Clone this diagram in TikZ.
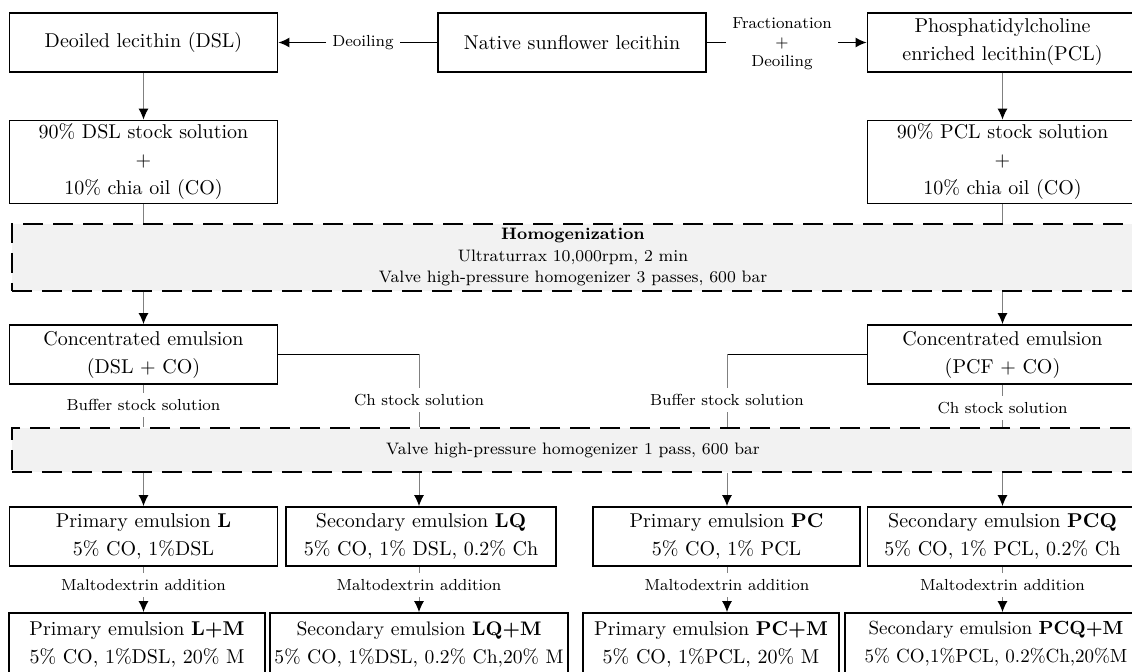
\documentclass[tikz,border=0pt]{standalone}
\usepackage{tikz}
\usetikzlibrary{arrows.meta,calc}

\begin{document}
\begin{tikzpicture}[x=0.5pt,y=-0.5pt,
    procbox/.style={draw, line width=0.9pt, fill=white, align=center, minimum height=29.5pt, inner sep=0.5pt, font=\fontsize{10}{14}\selectfont},
    stageband/.style={draw, fill=gray!10, line width=1pt, dash pattern=on 10pt off 5pt, align=center, inner sep=1pt, font=\fontsize{8.3}{10.75}\selectfont},
    lbl/.style={align=center, inner sep=3pt, font=\fontsize{8}{9.5}\selectfont},
    link/.style={draw=gray, line width=0.5pt},
    linkarrow/.style={-{Latex[length=5.5pt,width=5pt,color=black]}}]

    \useasboundingbox (0,0) rectangle (1132,672);

    % top row
    \node [procbox, minimum width=134pt] (dsl) at (143.5,42.5) {Deoiled lecithin (DSL)};
    \node [procbox, minimum width=134pt] (native) at (572,42.5) {Native sunflower lecithin};
    \node [procbox, minimum width=135pt] (pcl) at (1002.5,42.5) {Phosphatidylcholine\\enriched lecithin(PCL)};
    \node [lbl, fill=white] (deoil) at (363,42.5) {Deoiling};
    \node [lbl, fill=white] (fract) at (782,44) {Fractionation\\+\\Deoiling};

    \draw [line width=0.7pt] (native) -- (native.east -| fract.west);
    \draw [line width=0.7pt, linkarrow] (native.east -| fract.east) -- (pcl);
    \draw [line width=0.7pt] (native) -- (deoil);
    \draw [line width=0.7pt, linkarrow] (deoil) -- (dsl);

    % stock solutions
    \node [procbox, minimum width=134pt, minimum height=41.5pt] (dslstock) at (143.5,162) {90\% DSL stock solution\\+\\10\% chia oil (CO)};
    \node [procbox, minimum width=135pt, minimum height=41.5pt] (pclstock) at (1002.5,162) {90\% PCL stock solution\\+\\10\% chia oil (CO)};
    \draw [link, linkarrow] (dsl) -- (dslstock);
    \draw [link, linkarrow] (pcl) -- (pclstock);

    % homogenization
    \node [stageband, minimum width=561pt, minimum height=33.5pt] (homog) at (573,257.5) {\textbf{Homogenization}\\Ultraturrax 10,000rpm, 2 min\\Valve high-pressure homogenizer 3 passes, 600 bar};
    \draw [link] (dslstock) -- (dslstock |- homog.north);
    \draw [link] (pclstock) -- (pclstock |- homog.north);

    % concentrated emulsions
    \node [procbox, minimum width=134pt] (concl) at (143.5,354.5) {Concentrated emulsion\\(DSL + CO)};
    \node [procbox, minimum width=135pt] (concr) at (1002.5,354.5) {Concentrated emulsion\\(PCF + CO)};
    \draw [link, linkarrow] (concl |- homog.south) -- (concl);
    \draw [link, linkarrow] (concr |- homog.south) -- (concr);

    \node [lbl] (bufl) at (143.5,405) {Buffer stock solution};
    \node [lbl] (chl) at (419,400) {Ch stock solution};
    \node [lbl] (bufr) at (727,400) {Buffer stock solution};
    \node [lbl] (chr) at (1002.5,408) {Ch stock solution};

    \node [stageband, minimum width=561pt, minimum height=22pt] (valve) at (573,450) {Valve high-pressure homogenizer 1 pass, 600 bar};

    \draw [line width=0.7pt] (concl.east) -- (concl.east -| chl);
    \draw [link] (concl.east -| chl) -- (chl);
    \draw [line width=0.7pt] (concr.west) -- (concr.west -| bufr);
    \draw [link] (concr.west -| bufr) -- (bufr);
    \draw [link] (concl) -- (bufl);
    \draw [link] (concr) -- (chr);
    \draw [link] (bufl) -- (bufl |- valve.north);
    \draw [link] (chl) -- (chl |- valve.north);
    \draw [link] (bufr) -- (bufr |- valve.north);
    \draw [link] (chr) -- (chr |- valve.north);

    % emulsions
    \node [procbox, minimum width=134pt] (pl) at (143.5,536.5) {Primary emulsion \textbf{L}\\5\% CO, 1\%DSL};
    \node [procbox, minimum width=135pt] (slq) at (421,536.5) {Secondary emulsion \textbf{LQ}\\5\% CO, 1\% DSL, 0.2\% Ch};
    \node [procbox, minimum width=133.5pt] (ppc) at (726.5,536.5) {Primary emulsion \textbf{PC}\\5\% CO, 1\% PCL};
    \node [procbox, minimum width=135pt] (spcq) at (1002.5,536.5) {Secondary emulsion \textbf{PCQ}\\5\% CO, 1\% PCL, 0.2\% Ch};
    \draw [link, linkarrow] (pl |- valve.south) -- (pl);
    \draw [link, linkarrow] (chl |- valve.south) -- (chl |- slq.north);
    \draw [link, linkarrow] (bufr |- valve.south) -- (bufr |- ppc.north);
    \draw [link, linkarrow] (spcq |- valve.south) -- (spcq);

    % maltodextrin
    \node [lbl] (malt1) at (143.5,585) {Maltodextrin addition};
    \node [lbl] (malt2) at (419,585) {Maltodextrin addition};
    \node [lbl] (malt3) at (727,585) {Maltodextrin addition};
    \node [lbl] (malt4) at (1002.5,585) {Maltodextrin addition};

    \node [procbox, minimum width=128pt, minimum height=31pt] (plm) at (137,644) {Primary emulsion \textbf{L+M}\\5\% CO, 1\%DSL, 20\% M};
    \node [procbox, minimum width=149pt, minimum height=31pt, font=\fontsize{9.8}{14}\selectfont] (slqm) at (419,644) {Secondary emulsion \textbf{LQ+M}\\5\% CO, 1\%DSL, 0.2\% Ch,20\% M};
    \node [procbox, minimum width=128pt, minimum height=31pt] (ppcm) at (711,644) {Primary emulsion \textbf{PC+M}\\5\% CO, 1\%PCL, 20\% M};
    \node [procbox, minimum width=151pt, minimum height=31pt, font=\fontsize{9.5}{14}\selectfont] (spcqm) at (996,644) {Secondary emulsion \textbf{PCQ+M}\\5\% CO,1\%PCL, 0.2\%Ch,20\%M};

    \draw [link] (pl) -- (malt1);
    \draw [link] (slq.south -| malt2) -- (malt2);
    \draw [link] (ppc.south -| malt3) -- (malt3);
    \draw [link] (spcq) -- (malt4);
    \draw [link, linkarrow] (malt1) -- (malt1 |- plm.north);
    \draw [link, linkarrow] (malt2) -- (malt2 |- slqm.north);
    \draw [link, linkarrow] (malt3) -- (malt3 |- ppcm.north);
    \draw [link, linkarrow] (malt4) -- (malt4 |- spcqm.north);
\end{tikzpicture}
\end{document}
